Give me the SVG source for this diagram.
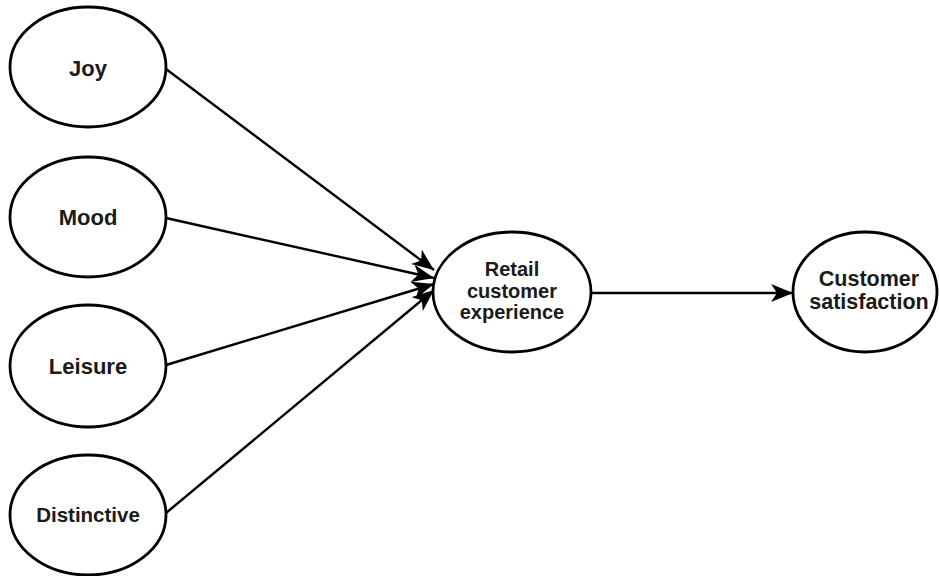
<svg xmlns="http://www.w3.org/2000/svg" width="939" height="576" viewBox="0 0 939 576">
  <style>
    .node { fill: #ffffff; stroke: #000000; stroke-width: 2.8; }
    .label { font-family: "Liberation Sans", Arial, Helvetica, sans-serif; font-weight: bold; font-size: 22px; fill: #1a1a1a; text-anchor: middle; }
    .edge { stroke: #000000; stroke-width: 2.4; fill: none; marker-end: url(#arrow); }
  </style>
  <defs>
    <marker id="arrow" markerUnits="userSpaceOnUse" markerWidth="24" markerHeight="20" refX="22" refY="9" orient="auto">
      <path d="M0,0 L22,9 L0,18 L6,9 z" fill="#000000"/>
    </marker>
  </defs>
  <rect width="939" height="576" fill="#ffffff"/>

  <g id="connectors">
    <line class="edge" x1="166" y1="69" x2="434" y2="270"/>
    <line class="edge" x1="166" y1="218" x2="434" y2="278"/>
    <line class="edge" x1="166" y1="365" x2="434" y2="284"/>
    <line class="edge" x1="166" y1="513" x2="434" y2="290"/>
    <line class="edge" x1="591" y1="293" x2="793" y2="293"/>
  </g>

  <g id="joy">
    <ellipse class="node" cx="88" cy="67" rx="78" ry="60"/>
    <text class="label" x="88" y="76">Joy</text>
  </g>
  <g id="mood">
    <ellipse class="node" cx="88" cy="217" rx="78" ry="60"/>
    <text class="label" x="88" y="225">Mood</text>
  </g>
  <g id="leisure">
    <ellipse class="node" cx="88" cy="366" rx="78" ry="61"/>
    <text class="label" x="88" y="374">Leisure</text>
  </g>
  <g id="distinctive">
    <ellipse class="node" cx="88" cy="515" rx="78" ry="60"/>
    <text class="label" x="88" y="522" style="font-size:20.5px">Distinctive</text>
  </g>
  <g id="retail-customer-experience">
    <ellipse class="node" cx="512" cy="292" rx="79" ry="60"/>
    <text class="label" x="512" y="276" style="font-size:20px">Retail</text>
    <text class="label" x="512" y="297.5" style="font-size:20px">customer</text>
    <text class="label" x="512" y="319" style="font-size:20px">experience</text>
  </g>
  <g id="customer-satisfaction">
    <ellipse class="node" cx="865" cy="292" rx="72" ry="60"/>
    <text class="label" x="869" y="286" style="font-size:21.5px">Customer</text>
    <text class="label" x="869" y="308.5" style="font-size:21.5px">satisfaction</text>
  </g>
</svg>
